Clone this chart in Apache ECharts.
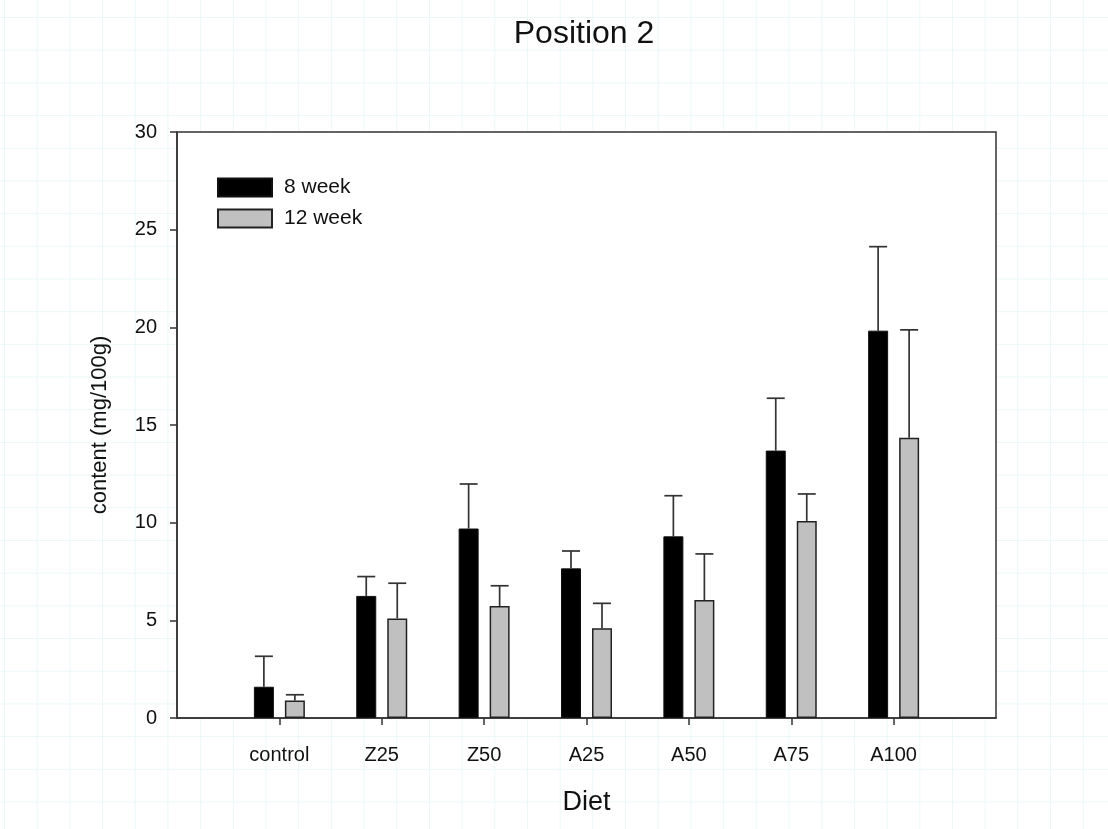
<!DOCTYPE html>
<html>
<head>
<meta charset="utf-8">
<title>Position 2</title>
<script src="https://cdn.jsdelivr.net/npm/echarts@6/dist/echarts.min.js"></script>
<style>
    html, body {
        margin: 0;
        padding: 0;
        background-color: #fff;
        background-image:
            linear-gradient(to right, #ebf8f8 1px, transparent 1px),
            linear-gradient(to bottom, #ebf8f8 1px, transparent 1px);
        background-size: 32.7px 32.7px;
        background-position: 4px 17px;
    }
    #chart { width: 1108px; height: 829px; }
</style>
</head>
<body>
<div id="chart"></div>
<script>
// categories and values
var categories = ['control', 'Z25', 'Z50', 'A25', 'A50', 'A75', 'A100'];
var week8 = [1.60, 6.25, 9.70, 7.66, 9.30, 13.69, 19.83];
var week8Sd = [1.56, 0.99, 2.28, 0.89, 2.08, 2.68, 4.30];
var week12 = [0.89, 5.10, 5.73, 4.59, 6.04, 10.09, 14.35];
var week12Sd = [0.30, 1.80, 1.04, 1.28, 2.36, 1.38, 5.52];
var yTicks = [0, 5, 10, 15, 20, 25, 30];

var font = 'Liberation Sans, Arial, sans-serif';

// one empty slot each side so the groups sit on ticks 1..7 of 8
var axisCats = [''].concat(categories, ['']);
function pad(arr) {
    return ['-'].concat(arr, ['-']);
}
function errData(mean, sd) {
    var out = [];
    for (var i = 0; i < mean.length; i++) {
        out.push([i + 1, mean[i], mean[i] + sd[i]]);
    }
    return out;
}
function errRender(offset) {
    return function (params, api) {
        var base = api.coord([api.value(0), api.value(1)]);
        var top = api.coord([api.value(0), api.value(2)]);
        var x = base[0] + offset;
        var style = {stroke: '#333', lineWidth: 1.7};
        return {
            type: 'group',
            children: [
                {type: 'line', shape: {x1: x, y1: base[1], x2: x, y2: top[1]}, style: style},
                {type: 'line', shape: {x1: x - 9, y1: top[1], x2: x + 9, y2: top[1]}, style: style}
            ]
        };
    };
}

var option = {
    animation: false,
    title: {
        text: 'Position 2',
        left: 579,
        textAlign: 'center',
        top: 13,
        textStyle: {fontFamily: font, fontSize: 32, fontWeight: 'normal', color: '#111'}
    },
    legend: {
        data: ['8 week', '12 week'],
        orient: 'vertical',
        left: 212,
        top: 172,
        itemWidth: 54,
        itemHeight: 18,
        itemGap: 10,
        icon: 'rect',
        textStyle: {fontFamily: font, fontSize: 21, color: '#111', padding: [0, 0, 0, 7]}
    },
    grid: {
        left: 177,
        right: 112,
        top: 132,
        bottom: 111,
        show: true,
        backgroundColor: '#fff',
        borderColor: '#333',
        borderWidth: 1.5
    },
    xAxis: {
        type: 'category',
        data: axisCats,
        boundaryGap: false,
        name: 'Diet',
        nameLocation: 'middle',
        nameGap: 71,
        nameTextStyle: {fontFamily: font, fontSize: 27, color: '#111'},
        axisLine: {lineStyle: {color: '#333', width: 1.5}},
        axisTick: {
            show: true,
            length: 7,
            interval: function (index) { return index > 0 && index < axisCats.length - 1; },
            lineStyle: {color: '#333', width: 1.5}
        },
        axisLabel: {
            interval: 0,
            margin: 27,
            fontFamily: font,
            fontSize: 20,
            color: '#111'
        },
        splitLine: {show: false}
    },
    yAxis: {
        type: 'value',
        min: yTicks[0],
        max: yTicks[yTicks.length - 1],
        interval: 5,
        name: 'content (mg/100g)',
        nameLocation: 'middle',
        nameGap: 66,
        nameTextStyle: {fontFamily: font, fontSize: 22, color: '#111'},
        axisLine: {show: true, lineStyle: {color: '#333', width: 1.5}},
        axisTick: {show: true, length: 7, lineStyle: {color: '#333', width: 1.5}},
        axisLabel: {margin: 20, fontFamily: font, fontSize: 20, color: '#111'},
        splitLine: {show: false}
    },
    series: [
        {
            name: '8 week',
            type: 'bar',
            data: pad(week8),
            barWidth: 20,
            barGap: '55%',
            itemStyle: {color: '#000', borderColor: '#111', borderWidth: 1}
        },
        {
            name: '12 week',
            type: 'bar',
            data: pad(week12),
            barWidth: 20,
            itemStyle: {color: '#c0c0c0', borderColor: '#222', borderWidth: 1.5}
        },
        {
            name: '8 week sd',
            type: 'custom',
            data: errData(week8, week8Sd),
            renderItem: errRender(-15.5),
            z: 1
        },
        {
            name: '12 week sd',
            type: 'custom',
            data: errData(week12, week12Sd),
            renderItem: errRender(15.5),
            z: 1
        }
    ]
};

var myChart = echarts.init(document.getElementById('chart'));
myChart.setOption(option);
</script>
</body>
</html>
